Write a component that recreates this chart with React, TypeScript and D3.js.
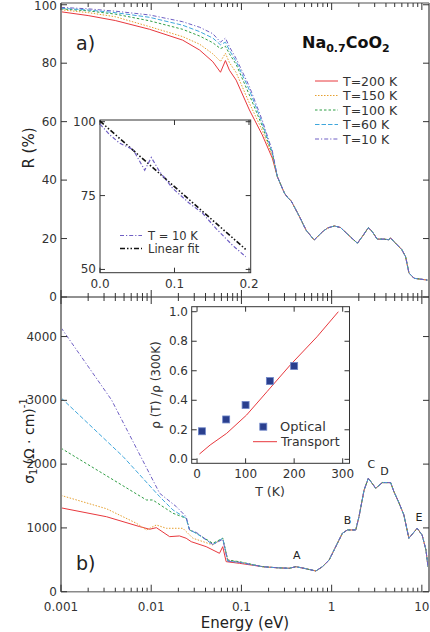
import React from "react";
import * as d3 from "d3";

// ---------- Panel a: reflectance R (%) ----------
const eLowR = [0.001, 0.002, 0.004, 0.0096, 0.0223, 0.0344, 0.0482, 0.0586, 0.0665, 0.0736, 0.0874, 0.1226, 0.17, 0.22];
const R200 = [97.6, 96.3, 94.6, 91.6, 87.9, 84.5, 80.5, 76.9, 80.9, 77.6, 74.2, 64.0, 55.5, 47.5];
const R150 = [98.3, 97.3, 95.9, 92.5, 89.1, 86.5, 83.2, 80.6, 83.4, 80.2, 76.8, 66.3, 57.0, 48.5];
const R100 = [98.6, 97.9, 96.8, 94.5, 91.6, 89.3, 87.0, 85.0, 85.8, 83.2, 79.6, 69.1, 58.5, 49.0];
const R60 = [98.8, 98.2, 97.3, 95.7, 93.0, 90.8, 88.6, 86.3, 87.2, 84.4, 80.6, 70.8, 59.5, 49.5];
const R10 = [99.1, 98.6, 97.8, 96.5, 94.2, 92.3, 90.1, 87.2, 88.6, 85.6, 81.6, 72.0, 60.5, 50.0];
const eTailR = [0.25, 0.3, 0.33, 0.354, 0.385, 0.44, 0.52, 0.64, 0.79, 0.9, 1.07, 1.25, 1.5, 1.93, 2.2, 2.55, 2.8, 3.2, 3.8, 4.3, 4.5, 5.0, 6.0, 6.6, 7.2, 8.2, 11.5];
const RTail = [41.2, 35.5, 33.8, 33.0, 30.9, 27.5, 22.9, 19.5, 22.3, 23.6, 24.3, 23.8, 21.5, 18.4, 20.8, 23.7, 22.5, 19.8, 19.8, 19.6, 20.2, 18.7, 16.2, 13.8, 8.2, 6.4, 5.8];

// inset a: T = 10 K, linear energy scale
const eInset = [0.0, 0.0133, 0.0267, 0.0444, 0.06, 0.0689, 0.08, 0.0978, 0.12, 0.1378, 0.1556, 0.1778, 0.1956];
const RInset = [99.2, 95.5, 92.7, 90.6, 83.6, 87.9, 83.1, 77.4, 72.4, 69.0, 63.9, 58.2, 54.3];
const eFit = [0.0, 0.1956];
const RFit = [100.2, 56.8];

// ---------- Panel b: optical conductivity ----------
const eS200 = [0.001, 0.0032, 0.00746, 0.0096, 0.0114, 0.016, 0.0206, 0.0244, 0.0278, 0.0407, 0.0571, 0.0621, 0.0677, 0.0951];
const S200 = [1315, 1175, 1020, 979, 1004, 863, 874, 838, 784, 706, 602, 706, 471, 445];
const eS150 = [0.001, 0.0032, 0.00685, 0.00885, 0.0114, 0.0147, 0.0224, 0.0255, 0.029, 0.0482, 0.0621, 0.0705, 0.0951];
const S150 = [1510, 1300, 1073, 968, 1046, 994, 994, 916, 838, 733, 838, 497, 465];
const eS100 = [0.001, 0.00885, 0.0104, 0.0174, 0.0244, 0.0266, 0.0316, 0.0482, 0.0621, 0.0705, 0.0951];
const S100 = [2250, 1438, 1438, 1230, 1151, 968, 916, 759, 838, 497, 470];
const eS60 = [0.001, 0.00488, 0.0124, 0.0174, 0.0244, 0.0266, 0.0316, 0.0482, 0.0621, 0.0705, 0.0951];
const S60 = [3040, 2118, 1490, 1282, 1151, 968, 916, 740, 838, 480, 460];
const eS10 = [0.001, 0.00363, 0.0124, 0.019, 0.0244, 0.0266, 0.0316, 0.0482, 0.0621, 0.0705, 0.0951];
const S10 = [4140, 3007, 1543, 1333, 1176, 968, 930, 740, 820, 480, 460];
const eTailS = [0.172, 0.25, 0.339, 0.402, 0.5, 0.668, 0.79, 0.938, 1.11, 1.315, 1.495, 1.85, 2.01, 2.29, 2.55, 3.08, 3.64, 4.51, 4.9, 5.6, 6.32, 7.18, 8.87, 10.07, 11.1, 11.7];
const STail = [392, 375, 367, 392, 365, 325, 392, 497, 706, 916, 968, 968, 1176, 1595, 1779, 1622, 1710, 1710, 1569, 1387, 1203, 838, 994, 889, 654, 392];

const peakLabels = ["A", "B", "C", "D", "E"];
const peakE = [0.41, 1.5, 2.75, 3.85, 9.3];
const peakS = [560, 1120, 1990, 1880, 1160];

// inset b: resistivity ratio
const optT = [10, 60, 100, 150, 200];
const optRho = [0.19, 0.27, 0.368, 0.53, 0.632];
const trT = [5, 27, 61, 102, 144, 192, 247, 291];
const trRho = [0.036, 0.097, 0.176, 0.30, 0.458, 0.639, 0.83, 1.0];

const seriesLabels = ["T=200 K", "T=150 K", "T=100 K", "T=60 K", "T=10 K"];
const colors = ["#e8383d", "#e6a030", "#2f9e44", "#3fa7dc", "#6f5fc4"];
const dashes = ["none", "1.5,1.5", "2.5,2", "4.5,2", "4,2,1.2,2"];

const FONT = "DejaVu Sans, sans-serif";

const zip = (xs: number[], ys: number[]) => xs.map((x, i) => [x, ys[i]] as [number, number]);

export default function App() {
  const xE = d3.scaleLog().domain([0.001, 12]).range([61, 429]);
  const yR = d3.scaleLinear().domain([0, 100.6]).range([297, 3]);
  const yS = d3.scaleLinear().domain([0, 4620]).range([591.7, 297]);
  const xA = d3.scaleLinear().domain([0, 0.2023]).range([100, 250.7]);
  const yA = d3.scaleLinear().domain([48.9, 100.58]).range([272.7, 120]);
  const xB = d3.scaleLinear().domain([-11, 314]).range([191.7, 349.5]);
  const yB = d3.scaleLinear().domain([-0.027, 1.034]).range([463.3, 306.7]);

  const lineR = d3.line<[number, number]>().x((d) => xE(d[0])).y((d) => yR(d[1]));
  const lineS = d3.line<[number, number]>().x((d) => xE(d[0])).y((d) => yS(d[1]));
  const lineA = d3.line<[number, number]>().x((d) => xA(d[0])).y((d) => yA(d[1]));
  const lineB = d3.line<[number, number]>().x((d) => xB(d[0])).y((d) => yB(d[1]));

  const tailR = zip(eTailR, RTail);
  const Rseries = [R200, R150, R100, R60, R10].map((v) => zip(eLowR, v).concat(tailR));
  const tailS = zip(eTailS, STail);
  const Sseries = [
    zip(eS200, S200),
    zip(eS150, S150),
    zip(eS100, S100),
    zip(eS60, S60),
    zip(eS10, S10),
  ].map((s) => s.concat(tailS));

  const majors = [0.001, 0.01, 0.1, 1, 10];
  const majorLabels = ["0.001", "0.01", "0.1", "1", "10"];
  const minors: number[] = [];
  [0.001, 0.01, 0.1, 1].forEach((d) => {
    for (let k = 2; k <= 9; k++) minors.push(d * k);
  });

  const [x0, x1] = xE.range();
  const topY = yR.range()[1];
  const midY = yR.range()[0];
  const botY = yS.range()[0];
  const frame = "#8a8a8a";
  const tickC = "#333";

  const xTicks = (y: number, dir: number) => (
    <g stroke={tickC} strokeWidth={1}>
      {majors.map((m, i) => (
        <line key={"M" + i} x1={xE(m)} x2={xE(m)} y1={y} y2={y + dir * 7} />
      ))}
      {minors.map((m, i) => (
        <line key={"m" + i} x1={xE(m)} x2={xE(m)} y1={y} y2={y + dir * 4} />
      ))}
    </g>
  );

  const rTicks = [0, 20, 40, 60, 80, 100];
  const sTicks = [0, 1000, 2000, 3000, 4000];

  const aXT = [0, 0.1, 0.2];
  const aXL = ["0.0", "0.1", "0.2"];
  const aYT = [50, 75, 100];
  const bXT = [0, 100, 200, 300];
  const bYT = [0, 0.2, 0.4, 0.6, 0.8, 1.0];

  return (
    <svg width={430} height={632} style={{ position: "absolute", left: 0, top: 0, background: "#fff" }} fontFamily={FONT}>
      <rect x={0} y={0} width={430} height={632} fill="#fff" />

      {/* ===== Panel a curves ===== */}
      {Rseries.map((s, i) => (
        <path key={"r" + i} d={lineR(s) || ""} fill="none" stroke={colors[i]} strokeWidth={1} strokeDasharray={dashes[i]} />
      ))}
      {/* ===== Panel b curves ===== */}
      {Sseries.map((s, i) => (
        <path key={"s" + i} d={lineS(s) || ""} fill="none" stroke={colors[i]} strokeWidth={1} strokeDasharray={dashes[i]} />
      ))}

      {/* frames */}
      <line x1={x0} x2={x0} y1={topY} y2={botY} stroke={frame} strokeWidth={2} />
      <line x1={x1} x2={x1} y1={topY} y2={botY} stroke={frame} strokeWidth={2} />
      <line x1={x0} x2={x1} y1={topY} y2={topY} stroke={frame} strokeWidth={1.5} />
      <line x1={x0} x2={x1} y1={botY} y2={botY} stroke={frame} strokeWidth={1.5} />
      <line x1={x0} x2={x1} y1={midY} y2={midY} stroke="#222" strokeWidth={1} />

      {xTicks(topY, 1)}
      {xTicks(midY, -1)}
      {xTicks(midY, 1)}
      {xTicks(botY, -1)}

      {/* y ticks */}
      <g stroke={tickC} strokeWidth={1}>
        {rTicks.map((t) => (
          <g key={"rt" + t}>
            <line x1={x0} x2={x0 + 6} y1={yR(t)} y2={yR(t)} />
            <line x1={x1} x2={x1 - 6} y1={yR(t)} y2={yR(t)} />
          </g>
        ))}
        {sTicks.map((t) => (
          <g key={"st" + t}>
            <line x1={x0} x2={x0 + 6} y1={yS(t)} y2={yS(t)} />
            <line x1={x1} x2={x1 - 6} y1={yS(t)} y2={yS(t)} />
          </g>
        ))}
      </g>
      <g fontSize={12} fill="#333" textAnchor="end" dominantBaseline="central">
        {rTicks.map((t) => (
          <text key={"rl" + t} x={57} y={t === 100 ? yR(t) + 1.5 : yR(t)}>{t}</text>
        ))}
        {sTicks.filter((t) => t > 0).map((t) => (
          <text key={"sl" + t} x={57} y={yS(t)}>{t}</text>
        ))}
        <text x={57} y={botY}>0</text>
      </g>
      <g fontSize={12} fill="#333" textAnchor="middle">
        {majors.map((m, i) => (
          <text key={"xl" + i} x={xE(m)} y={611}>{majorLabels[i]}</text>
        ))}
      </g>
      <text x={245} y={628} fontSize={15} textAnchor="middle" fill="#222">Energy (eV)</text>
      <text transform="translate(29,148) rotate(-90)" fontSize={15} textAnchor="middle" dominantBaseline="central" fill="#222">R (%)</text>
      <text transform="translate(29,441) rotate(-90)" fontSize={14} textAnchor="middle" dominantBaseline="central" fill="#222">
        σ<tspan dy={4} fontSize={10}>1</tspan>
        <tspan dy={-4} dx={4}>(Ω · cm)</tspan>
        <tspan dy={-6} fontSize={10}>-1</tspan>
      </text>

      <text x={76} y={50} fontSize={19} fill="#222">a)</text>
      <text x={76} y={570} fontSize={19} fill="#222">b)</text>

      {/* title */}
      <text x={302} y={48} fontSize={16} fontWeight="bold" fill="#111">
        Na<tspan dy={4} fontSize={11}>0.7</tspan>
        <tspan dy={-4}>CoO</tspan>
        <tspan dy={4} fontSize={11}>2</tspan>
      </text>

      {/* legend panel a */}
      {seriesLabels.map((lab, i) => {
        const y = 81 + i * 14.5;
        return (
          <g key={"lg" + i}>
            <line x1={315} x2={338} y1={y} y2={y} stroke={colors[i]} strokeWidth={1} strokeDasharray={dashes[i]} />
            <text x={343} y={y} fontSize={12.5} dominantBaseline="central" fill="#333">{lab}</text>
          </g>
        );
      })}

      {/* peak labels */}
      <g fontSize={11} fill="#222" textAnchor="middle" dominantBaseline="central">
        {peakLabels.map((p, i) => (
          <text key={"p" + i} x={xE(peakE[i])} y={yS(peakS[i])}>{p}</text>
        ))}
      </g>

      {/* ===== Inset a ===== */}
      <rect x={xA.range()[0]} y={yA.range()[1]} width={xA.range()[1] - xA.range()[0]} height={yA.range()[0] - yA.range()[1]} fill="#fff" stroke="#333" strokeWidth={1} />
      <g stroke={tickC} strokeWidth={1}>
        {aXT.map((t) => (
          <g key={"ax" + t}>
            <line x1={xA(t)} x2={xA(t)} y1={yA.range()[0]} y2={yA.range()[0] - 5} />
            <line x1={xA(t)} x2={xA(t)} y1={yA.range()[1]} y2={yA.range()[1] + 5} />
          </g>
        ))}
        {aYT.map((t) => (
          <g key={"ay" + t}>
            <line x1={xA.range()[0]} x2={xA.range()[0] + 5} y1={yA(t)} y2={yA(t)} />
            <line x1={xA.range()[1]} x2={xA.range()[1] - 5} y1={yA(t)} y2={yA(t)} />
          </g>
        ))}
      </g>
      <g fontSize={12} fill="#333">
        {aYT.map((t) => (
          <text key={"ayl" + t} x={96} y={yA(t)} textAnchor="end" dominantBaseline="central">{t}</text>
        ))}
        {aXT.map((t, i) => (
          <text key={"axl" + t} x={xA(t)} y={284} textAnchor="middle" dominantBaseline="central">{aXL[i]}</text>
        ))}
      </g>
      <path d={lineA(zip(eFit, RFit)) || ""} fill="none" stroke="#111" strokeWidth={1.6} strokeDasharray="5,2,1.5,2,1.5,2" />
      <path d={lineA(zip(eInset, RInset)) || ""} fill="none" stroke={colors[4]} strokeWidth={1.2} strokeDasharray="4,2,1.2,2" />
      <line x1={120} x2={142} y1={235.5} y2={235.5} stroke={colors[4]} strokeWidth={1.2} strokeDasharray="4,2,1.2,2" />
      <text x={148} y={235.5} fontSize={11.5} dominantBaseline="central" fill="#333">T = 10 K</text>
      <line x1={120} x2={142} y1={248.5} y2={248.5} stroke="#111" strokeWidth={1.6} strokeDasharray="5,2,1.5,2,1.5,2" />
      <text x={148} y={248.5} fontSize={11.5} dominantBaseline="central" fill="#333">Linear fit</text>

      {/* ===== Inset b ===== */}
      <rect x={xB.range()[0]} y={yB.range()[1]} width={xB.range()[1] - xB.range()[0]} height={yB.range()[0] - yB.range()[1]} fill="#fff" stroke="#333" strokeWidth={1} />
      <g stroke={tickC} strokeWidth={1}>
        {bXT.map((t) => (
          <g key={"bx" + t}>
            <line x1={xB(t)} x2={xB(t)} y1={yB.range()[0]} y2={yB.range()[0] - 5} />
            <line x1={xB(t)} x2={xB(t)} y1={yB.range()[1]} y2={yB.range()[1] + 5} />
          </g>
        ))}
        {bYT.map((t) => (
          <g key={"by" + t}>
            <line x1={xB.range()[0]} x2={xB.range()[0] + 5} y1={yB(t)} y2={yB(t)} />
            <line x1={xB.range()[1]} x2={xB.range()[1] - 5} y1={yB(t)} y2={yB(t)} />
          </g>
        ))}
      </g>
      <g fontSize={12} fill="#333">
        {bYT.map((t) => (
          <text key={"byl" + t} x={188} y={yB(t)} textAnchor="end" dominantBaseline="central">{t.toFixed(1)}</text>
        ))}
        {bXT.map((t) => (
          <text key={"bxl" + t} x={xB(t)} y={474} textAnchor="middle" dominantBaseline="central">{t}</text>
        ))}
      </g>
      <text x={270} y={491} fontSize={12.5} textAnchor="middle" dominantBaseline="central" fill="#333">T (K)</text>
      <text transform="translate(156,385) rotate(-90)" fontSize={12} textAnchor="middle" dominantBaseline="central" fill="#333">ρ (T) /ρ (300K)</text>
      <path d={lineB(zip(trT, trRho)) || ""} fill="none" stroke={colors[0]} strokeWidth={1} />
      {optT.map((t, i) => (
        <rect key={"o" + i} x={xB(t) - 3.5} y={yB(optRho[i]) - 3.5} width={7} height={7} fill="#2a3f8e" stroke="#6f86c8" strokeWidth={0.8} />
      ))}
      <rect x={263.3 - 3.5} y={426.7 - 3.5} width={7} height={7} fill="#2a3f8e" stroke="#6f86c8" strokeWidth={0.8} />
      <text x={280} y={426.7} fontSize={13} dominantBaseline="central" fill="#333">Optical</text>
      <line x1={253} x2={277} y1={441.7} y2={441.7} stroke={colors[0]} strokeWidth={1} />
      <text x={281} y={441.7} fontSize={12.5} dominantBaseline="central" fill="#333">Transport</text>
    </svg>
  );
}
